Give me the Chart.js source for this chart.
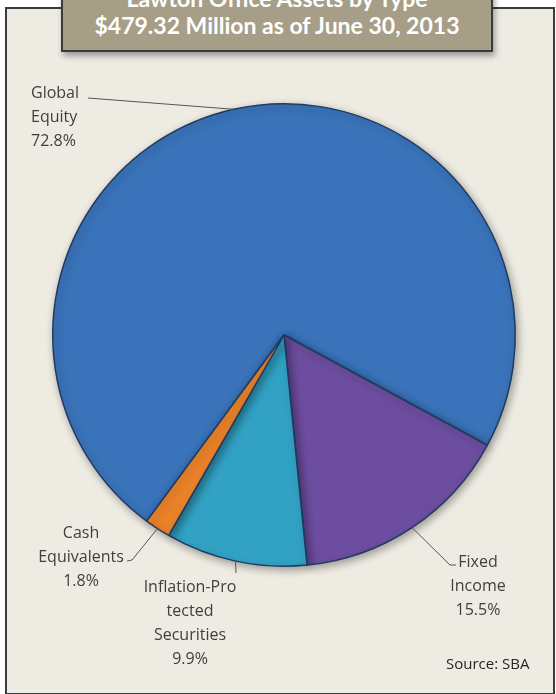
<!DOCTYPE html>
<html>
<head>
<meta charset="utf-8">
<script src="https://cdn.jsdelivr.net/npm/chart.js@4.4.1/dist/chart.umd.min.js"></script>
<style>
    html, body { margin: 0; padding: 0; background: #ffffff; }
    body { width: 556px; height: 694px; position: relative; overflow: hidden; font-family: "Open Sans", Lato, sans-serif; }
    .panel {
        position: absolute; left: 5px; top: 7px; width: 546px; height: 684px;
        background: #eeebe2; border: 2px solid #3b3b3b;
    }
    .titleBox {
        position: absolute; left: 61px; top: -24px; width: 432px; height: 76px;
        background: #a69e87; border: 2px solid #3a3a3a;
        box-shadow: 2px 4px 6px rgba(0, 0, 0, 0.35);
        color: #ffffff; font-family: Lato, sans-serif; font-weight: bold; font-size: 23px; text-align: center;
        line-height: 27px; padding-top: 7px; box-sizing: border-box;
    }
    #pie { position: absolute; left: 0; top: 0; }
    .source { position: absolute; left: 446px; top: 653px; font-size: 15px; color: #262626; }
</style>
</head>
<body>
<div class="panel"></div>
<div class="titleBox">
    <div>Lawton Office Assets by Type</div>
    <div>$479.32 Million as of June 30, 2013</div>
</div>
<canvas id="pie" width="556" height="694"></canvas>
<div class="source">Source: SBA</div>

<script>
// Données du graphique
const categories = ['Global Equity', 'Fixed Income', 'Inflation-Protected Securities', 'Cash Equivalents'];
const shares = [72.8, 15.5, 9.9, 1.8];
const labelLines = [['Global', 'Equity'], ['Fixed', 'Income'], ['Inflation-Pro', 'tected', 'Securities'], ['Cash', 'Equivalents']];

// Couleurs des parts (clair / foncé)
const lightColors = ['#3a73b9', '#6d4d9f', '#32a2c4', '#ea8228'];
const darkColors = ['#2b5a97', '#553885', '#26849f', '#c86414'];

// Placement des étiquettes : ancrage du texte et coude du trait
const labelSpots = [
    { x: 31, y: 93, align: 'left', elbow: [88, 98], end: [88, 98] },
    { x: 478, y: 562, align: 'center', elbow: [450, 565], end: [456, 565] },
    { x: 190, y: 587, align: 'center', elbow: [236, 573], end: [236, 573] },
    { x: 81, y: 533, align: 'center', elbow: [132, 560], end: [127, 561] }
];

function sliceFill(context) {
    const chart = context.chart;
    const arc = chart.getDatasetMeta(0).data[context.dataIndex];
    if (!arc || !arc.outerRadius) return lightColors[context.dataIndex];
    const g = chart.ctx.createRadialGradient(arc.x, arc.y, 0, arc.x, arc.y, arc.outerRadius);
    g.addColorStop(0, lightColors[context.dataIndex]);
    g.addColorStop(0.85, lightColors[context.dataIndex]);
    g.addColorStop(1, darkColors[context.dataIndex]);
    return g;
}

const shadowPlugin = {
    id: 'shadow',
    beforeDatasetsDraw(chart) {
        chart.ctx.save();
        chart.ctx.shadowColor = 'rgba(0, 0, 0, 0.35)';
        chart.ctx.shadowBlur = 8;
        chart.ctx.shadowOffsetX = 2;
        chart.ctx.shadowOffsetY = 3;
    },
    afterDatasetsDraw(chart) {
        chart.ctx.restore();
    }
};

const labelPlugin = {
    id: 'sliceLabels',
    afterDraw(chart) {
        const ctx = chart.ctx;
        const arcs = chart.getDatasetMeta(0).data;
        ctx.save();
        ctx.font = '16px "Open Sans", Lato, sans-serif';
        ctx.fillStyle = '#404040';
        ctx.textBaseline = 'middle';
        arcs.forEach((arc, i) => {
            const spot = labelSpots[i];
            const mid = (arc.startAngle + arc.endAngle) / 2;
            const sx = arc.x + Math.cos(mid) * arc.outerRadius;
            const sy = arc.y + Math.sin(mid) * arc.outerRadius;
            // Trait de rappel
            ctx.strokeStyle = '#555555';
            ctx.lineWidth = 1;
            ctx.beginPath();
            ctx.moveTo(sx, sy);
            ctx.lineTo(spot.elbow[0], spot.elbow[1]);
            ctx.lineTo(spot.end[0], spot.end[1]);
            ctx.stroke();
            // Texte
            ctx.textAlign = spot.align;
            const lines = labelLines[i].concat([shares[i].toFixed(1) + '%']);
            lines.forEach((t, k) => ctx.fillText(t, spot.x, spot.y + k * 24));
        });
        ctx.restore();
    }
};

new Chart(document.getElementById('pie'), {
    type: 'pie',
    data: {
        labels: categories,
        datasets: [{
            data: shares,
            backgroundColor: sliceFill,
            borderColor: '#1f3b63',
            borderWidth: 1.5
        }]
    },
    options: {
        responsive: false,
        animation: false,
        rotation: 216.4,
        layout: { padding: { left: 52, right: 40, top: 103, bottom: 127 } },
        plugins: {
            legend: { display: false },
            tooltip: { enabled: false }
        }
    },
    plugins: [shadowPlugin, labelPlugin]
});
</script>
</body>
</html>
